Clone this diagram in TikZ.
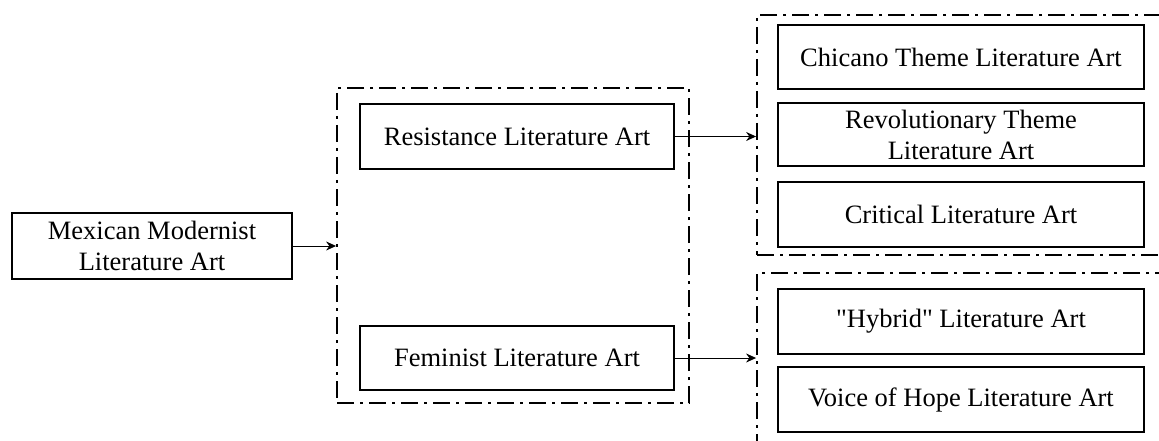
\documentclass[tikz,border=0pt]{standalone}
\usepackage{fontspec}
\setmainfont{Liberation Serif}
\usetikzlibrary{arrows.meta}
\tikzset{
  litbox/.style={draw,line width=1.8pt,align=center,inner sep=0pt,
    font=\fontsize{26.5}{31}\selectfont},
  groupframe/.style={draw,line width=1.8pt,dash pattern=on 17pt off 6pt on 3pt off 6pt,inner sep=0pt}
}
\begin{document}
\begin{tikzpicture}[x=1pt,y=-1pt,>={Stealth[length=10pt,width=9pt]}]
\useasboundingbox (0,0) rectangle (1159,441);
\clip (0,0) rectangle (1159,441);
% groups
\node[groupframe,minimum width=352pt,minimum height=315pt](midframe) at (513,245.5){};
\node[groupframe,minimum width=418pt,minimum height=240pt](topframe) at (966,135){};
\node[groupframe,minimum width=418pt,minimum height=187pt](lowframe) at (966,366.5){};
% boxes
\node[litbox,minimum width=280pt,minimum height=66pt](mexican) at (152,246){Mexican Modernist\\Literature Art};
\node[litbox,minimum width=314pt,minimum height=65pt](resist) at (517,136.5){Resistance Literature Art};
\node[litbox,minimum width=314pt,minimum height=64pt](feminist) at (517,358){Feminist Literature Art};
\node[litbox,minimum width=366pt,minimum height=64pt](chicano) at (961,57){Chicano Theme Literature Art};
\node[litbox,minimum width=366pt,minimum height=63pt](revol) at (961,134.5){Revolutionary Theme\\Literature Art};
\node[litbox,minimum width=366pt,minimum height=65pt](critical) at (961,214.5){Critical Literature Art};
\node[litbox,minimum width=366pt,minimum height=65pt](hybrid) at (961,321.5){\textquotedbl Hybrid\textquotedbl{} Literature Art};
\node[litbox,minimum width=366pt,minimum height=65pt](hope) at (961,399.5){Voice of Hope Literature Art};
% arrows
\draw[->,line width=1pt](mexican.east)--(mexican.east-|midframe.west);
\draw[->,line width=1pt](resist.east)--(resist.east-|topframe.west);
\draw[->,line width=1pt](feminist.east)--(feminist.east-|lowframe.west);
\end{tikzpicture}
\end{document}
